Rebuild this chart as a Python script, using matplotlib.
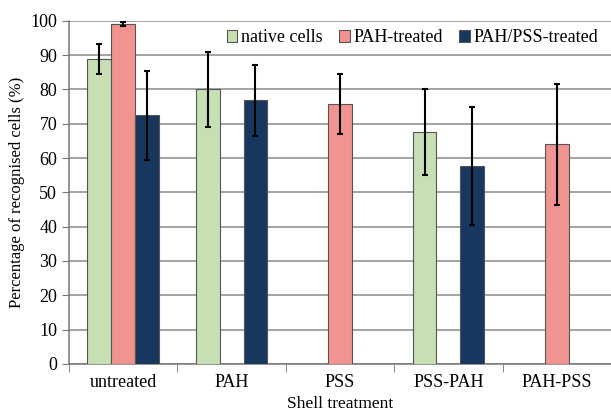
import matplotlib
matplotlib.use("Agg")
import matplotlib.pyplot as plt
import numpy as np

categories = ["untreated", "PAH", "PSS", "PSS-PAH", "PAH-PSS"]
series = ["native cells", "PAH-treated", "PAH/PSS-treated"]

# nan = no bar for that treatment
native_vals = [88.8, 80.0, np.nan, 67.5, np.nan]
native_err = [4.4, 11.0, np.nan, 12.5, np.nan]
pah_vals = [99.0, np.nan, 75.8, np.nan, 64.0]
pah_err = [0.6, np.nan, 8.7, np.nan, 17.7]
pahpss_vals = [72.4, 76.8, np.nan, 57.8, np.nan]
pahpss_err = [13.0, 10.3, np.nan, 17.2, np.nan]

COLORS = ["#c6e0b4", "#f1938f", "#17375e"]
BAR_W = 0.22

plt.rcParams["font.family"] = ["Liberation Serif", "DejaVu Serif"]

fig = plt.figure(figsize=(6.11, 4.15), dpi=100)
ax = fig.add_axes([0.113, 0.123, 0.887, 0.827])

x = np.arange(len(categories))
vals = [native_vals, pah_vals, pahpss_vals]
errs = [native_err, pah_err, pahpss_err]
for i, (v, e) in enumerate(zip(vals, errs)):
    ax.bar(x + (i - 1) * BAR_W, v, BAR_W, color=COLORS[i], edgecolor="#555555",
           linewidth=0.8, label=series[i], zorder=3)
    ax.errorbar(x + (i - 1) * BAR_W, v, yerr=e, fmt="none", ecolor="black",
                elinewidth=1.5, capsize=2.5, capthick=1.5, zorder=4)

ax.set_xlim(-0.5, len(categories) - 0.5)
ax.set_ylim(0, 100)
ax.set_yticks(np.arange(0, 101, 10))
ax.set_xticks(x)
ax.set_xticklabels(categories, fontsize=13)
ax.set_xticks(np.arange(-0.5, len(categories), 1), minor=True)
ax.tick_params(axis="x", which="major", length=0, pad=7)
ax.tick_params(axis="x", which="minor", length=6, color="#777777", direction="out")
ax.tick_params(axis="y", labelsize=13, length=5, color="#777777", direction="out")
ax.yaxis.grid(True, color="#8a8a8a", linewidth=1.1, zorder=0)
ax.set_axisbelow(True)

for s in ["top", "right"]:
    ax.spines[s].set_visible(False)
for s in ["left", "bottom"]:
    ax.spines[s].set_color("#777777")
    ax.spines[s].set_linewidth(1.1)

ax.set_xlabel("Shell treatment", fontsize=12.5, labelpad=4)
ax.set_ylabel("Percentage of recognised cells (%)", fontsize=12, labelpad=4)

ax.legend(loc="center right", bbox_to_anchor=(1.0, 0.95), ncol=3, frameon=False,
          fontsize=13, handlelength=0.6, handleheight=0.6, handletextpad=0.2,
          columnspacing=0.9, borderaxespad=0.3)

fig.savefig("out.png", dpi=100)
